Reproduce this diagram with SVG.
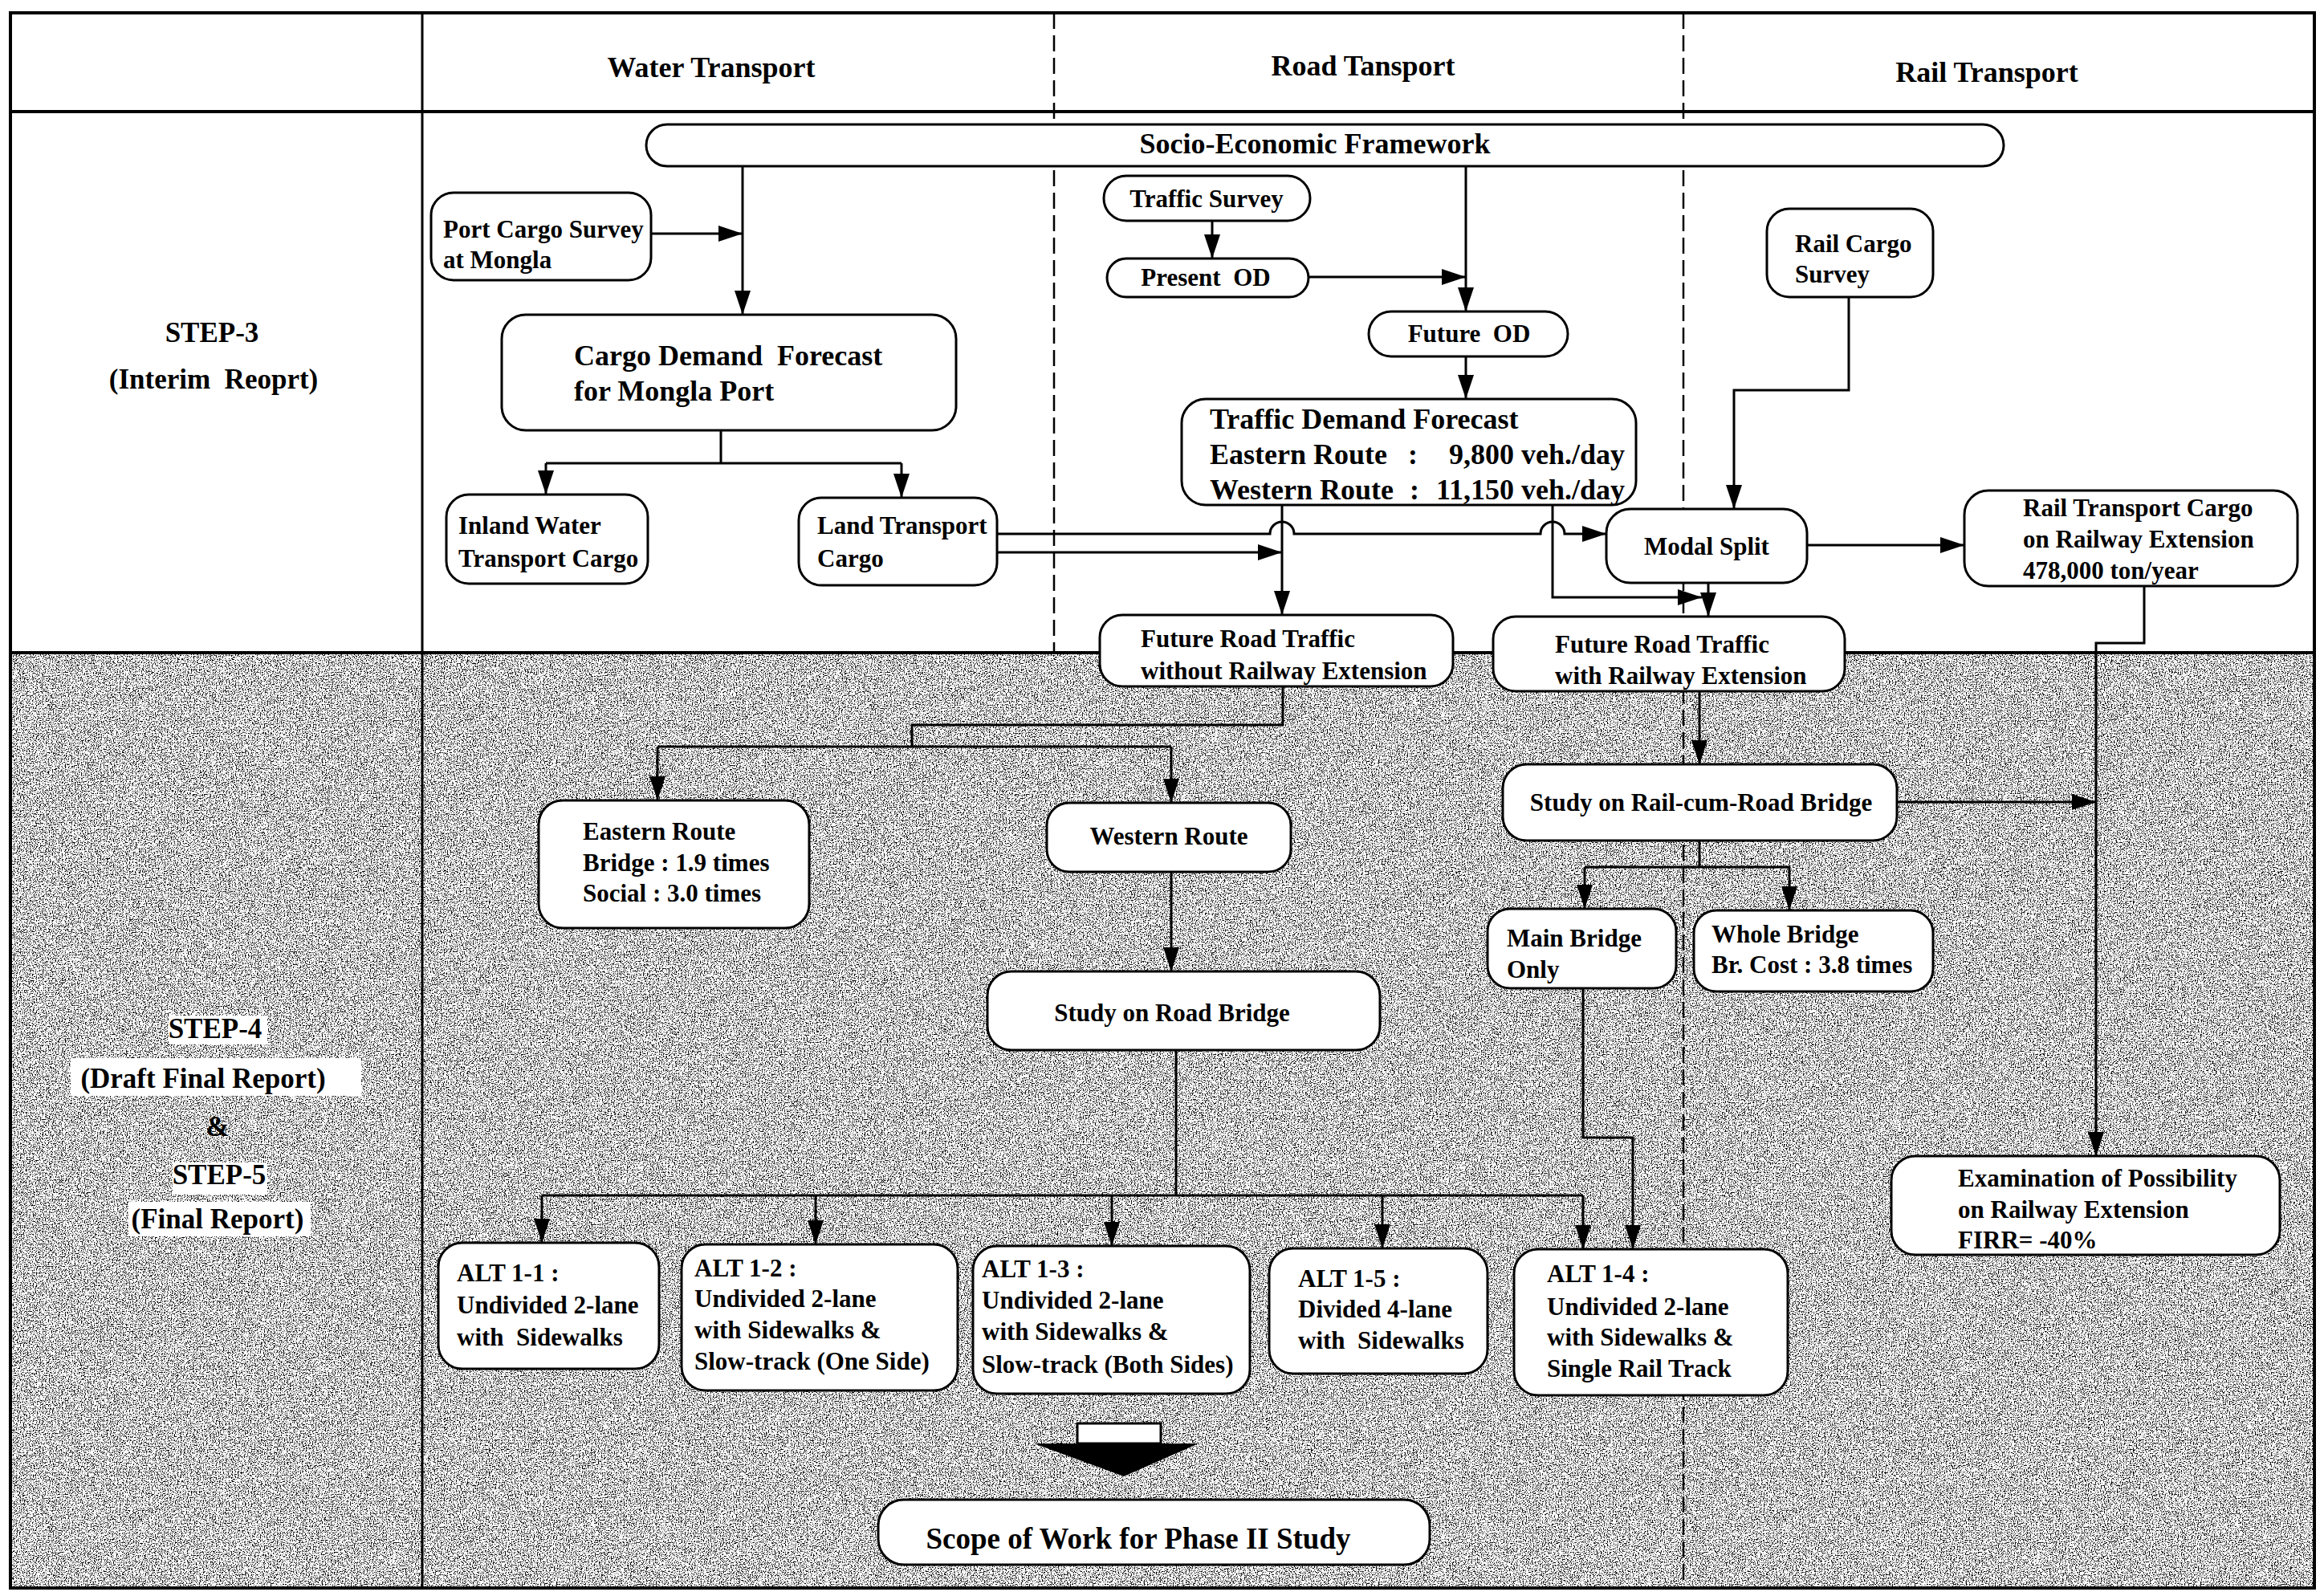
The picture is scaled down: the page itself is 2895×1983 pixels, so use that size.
<svg xmlns="http://www.w3.org/2000/svg" width="2895" height="1983" viewBox="0 0 2895 1983">
<style>
.t{font-family:"Liberation Serif","Times New Roman",serif;font-weight:bold;font-size:31px;fill:#000}
.lg{font-size:36px}
.st{font-size:35px}
.c{text-anchor:middle}
.e{text-anchor:end}
.box{fill:#fff;stroke:#000;stroke-width:3}
.cn{fill:none;stroke:#000;stroke-width:3}
.ar{marker-end:url(#ah)}
.grid{stroke:#000;stroke-width:4;fill:none}
.dash{stroke:#000;stroke-width:2.5;stroke-dasharray:20 8;fill:none}
.patch{fill:#fff}
</style>
<defs>
<marker id="ah" markerUnits="userSpaceOnUse" markerWidth="30" markerHeight="20" refX="30" refY="10" orient="auto" viewBox="0 0 30 20">
<path d="M0,0 L30,10 L0,20 z" fill="#000"/>
</marker>
<filter id="grain" x="0" y="0" width="1" height="1" color-interpolation-filters="sRGB">
<feTurbulence type="fractalNoise" baseFrequency="0.75" numOctaves="2" seed="4" result="t"/>
<feColorMatrix in="t" type="matrix" values="0 0 0 0 0  0 0 0 0 0  0 0 0 0 0  -7 0 0 0 3.44"/>
</filter>
</defs>

<g id="background">
<rect x="0" y="0" width="2895" height="1983" fill="#fff"/>
<rect x="15" y="815" width="2866" height="1161" fill="#000" filter="url(#grain)"/>
</g>

<g id="grid">
<rect class="grid" x="13" y="16" width="2870" height="1962"/>
<line class="grid" x1="13" y1="139" x2="2883" y2="139"/>
<line class="grid" x1="13" y1="813" x2="2883" y2="813"/>
<line class="grid" style="stroke-width:3" x1="526" y1="16" x2="526" y2="1978"/>
<line class="dash" x1="1313" y1="16" x2="1313" y2="813"/>
<line class="dash" x1="2097" y1="16" x2="2097" y2="1978"/>
</g>

<g id="headers">
<text class="t lg c" x="886" y="96">Water Transport</text>
<text class="t lg c" x="1698" y="94">Road Tansport</text>
<text class="t lg c" x="2475" y="102">Rail Transport</text>
</g>

<g id="step-labels">
<text class="t st c" x="264" y="426">STEP-3</text>
<text class="t st c" x="266" y="484" xml:space="preserve">(Interim  Reoprt)</text>
<rect class="patch" x="210" y="1265" width="123" height="36"/>
<rect class="patch" x="88" y="1318" width="362" height="47"/>
<rect class="patch" x="215" y="1448" width="118" height="40"/>
<rect class="patch" x="160" y="1497" width="227" height="43"/>
<text class="t st c" x="268" y="1293">STEP-4</text>
<text class="t st c" x="253" y="1355">(Draft Final Report)</text>
<text class="t st c" x="271" y="1415">&amp;</text>
<text class="t st c" x="273" y="1475">STEP-5</text>
<text class="t st c" x="271" y="1530">(Final Report)</text>
</g>

<g id="connectors">
<path class="cn ar" d="M811,291 H925"/>
<path class="cn ar" d="M925,207 V392"/>
<path class="cn" d="M898,536 V577 M680,577 H1123"/>
<path class="cn ar" d="M680,577 V616"/>
<path class="cn ar" d="M1123,577 V620"/>
<path class="cn ar" d="M1242,665 H1582 A15,15 0 0 1 1612,665 H1919 A15,15 0 0 1 1949,665 H2001"/>
<path class="cn ar" d="M1242,688 H1597"/>
<path class="cn ar" d="M1597,629 V766"/>
<path class="cn ar" d="M1934,629 V744 H2120"/>
<path class="cn ar" d="M2128,726 V768"/>
<path class="cn ar" d="M1510,275 V322"/>
<path class="cn ar" d="M1630,345 H1826"/>
<path class="cn ar" d="M1826,207 V388"/>
<path class="cn ar" d="M1826,444 V497"/>
<path class="cn ar" d="M2303,370 V486 H2160 V634"/>
<path class="cn ar" d="M2251,679 H2447"/>
<path class="cn ar" d="M2671,730 V801 H2611 V1440"/>
<path class="cn ar" d="M2363,999 H2611"/>
<path class="cn" d="M1598,855 V903 H1136 V930 M819,930 H1459"/>
<path class="cn ar" d="M819,930 V997"/>
<path class="cn ar" d="M1459,930 V1000"/>
<path class="cn ar" d="M1459,1086 V1210"/>
<path class="cn ar" d="M2117,861 V952"/>
<path class="cn" d="M2117,1047 V1080 M1974,1080 H2229"/>
<path class="cn ar" d="M1974,1080 V1132"/>
<path class="cn ar" d="M2229,1080 V1134"/>
<path class="cn" d="M1465,1308 V1489 M675,1489 H1972"/>
<path class="cn ar" d="M675,1489 V1548"/>
<path class="cn ar" d="M1016,1489 V1550"/>
<path class="cn ar" d="M1385,1489 V1552"/>
<path class="cn ar" d="M1722,1489 V1555"/>
<path class="cn ar" d="M1972,1489 V1556"/>
<path class="cn ar" d="M1972,1231 V1417 H2034 V1556"/>
</g>

<g id="n-socio">
<rect class="box" x="805" y="155" width="1691" height="52" rx="26"/>
<text class="t lg c" x="1638" y="191">Socio-Economic Framework</text>
</g>
<g id="n-port-survey">
<rect class="box" x="537" y="240" width="274" height="109" rx="28"/>
<text class="t" x="552" y="296">Port Cargo Survey</text>
<text class="t" x="552" y="334">at Mongla</text>
</g>
<g id="n-cargo-demand">
<rect class="box" x="625" y="392" width="566" height="144" rx="30"/>
<text class="t lg" x="715" y="455" xml:space="preserve">Cargo Demand  Forecast</text>
<text class="t lg" x="715" y="499">for Mongla Port</text>
</g>
<g id="n-inland">
<rect class="box" x="556" y="616" width="251" height="111" rx="28"/>
<text class="t" x="571" y="665">Inland Water</text>
<text class="t" x="571" y="706">Transport Cargo</text>
</g>
<g id="n-land">
<rect class="box" x="995" y="620" width="247" height="109" rx="28"/>
<text class="t" x="1018" y="665">Land Transport</text>
<text class="t" x="1018" y="706">Cargo</text>
</g>
<g id="n-traffic-survey">
<rect class="box" x="1375" y="219" width="257" height="56" rx="28"/>
<text class="t c" x="1503" y="258">Traffic Survey</text>
</g>
<g id="n-present-od">
<rect class="box" x="1379" y="322" width="251" height="48" rx="24"/>
<text class="t c" x="1502" y="356" xml:space="preserve">Present  OD</text>
</g>
<g id="n-future-od">
<rect class="box" x="1705" y="388" width="248" height="56" rx="28"/>
<text class="t c" x="1830" y="426" xml:space="preserve">Future  OD</text>
</g>
<g id="n-traffic-demand">
<rect class="box" x="1472" y="497" width="566" height="132" rx="30"/>
<text class="t lg" x="1507" y="534">Traffic Demand Forecast</text>
<text class="t lg" x="1507" y="578">Eastern Route</text>
<text class="t lg c" x="1760" y="578">:</text>
<text class="t lg e" x="2024" y="578">9,800 veh./day</text>
<text class="t lg" x="1507" y="622">Western Route</text>
<text class="t lg c" x="1762" y="622">:</text>
<text class="t lg e" x="2024" y="622">11,150 veh./day</text>
</g>
<g id="n-rail-survey">
<rect class="box" x="2201" y="260" width="207" height="110" rx="28"/>
<text class="t" x="2236" y="314">Rail Cargo</text>
<text class="t" x="2236" y="352">Survey</text>
</g>
<g id="n-modal-split">
<rect class="box" x="2001" y="634" width="250" height="92" rx="30"/>
<text class="t c" x="2126" y="691">Modal Split</text>
</g>
<g id="n-rail-cargo">
<rect class="box" x="2447" y="611" width="415" height="119" rx="30"/>
<text class="t" x="2520" y="643">Rail Transport Cargo</text>
<text class="t" x="2520" y="682">on Railway Extension</text>
<text class="t" x="2520" y="721">478,000 ton/year</text>
</g>
<g id="n-frt-without">
<rect class="box" x="1370" y="766" width="440" height="89" rx="28"/>
<text class="t" x="1421" y="806">Future Road Traffic</text>
<text class="t" x="1421" y="846">without Railway Extension</text>
</g>
<g id="n-frt-with">
<rect class="box" x="1860" y="768" width="438" height="93" rx="28"/>
<text class="t" x="1937" y="813">Future Road Traffic</text>
<text class="t" x="1937" y="852">with Railway Extension</text>
</g>
<g id="n-eastern">
<rect class="box" x="671" y="997" width="337" height="159" rx="30"/>
<text class="t" x="726" y="1046">Eastern Route</text>
<text class="t" x="726" y="1085">Bridge : 1.9 times</text>
<text class="t" x="726" y="1123">Social : 3.0 times</text>
</g>
<g id="n-western">
<rect class="box" x="1304" y="1000" width="304" height="86" rx="28"/>
<text class="t c" x="1456" y="1052">Western Route</text>
</g>
<g id="n-study-road">
<rect class="box" x="1230" y="1210" width="489" height="98" rx="30"/>
<text class="t c" x="1460" y="1272">Study on Road Bridge</text>
</g>
<g id="n-study-rail">
<rect class="box" x="1872" y="952" width="491" height="95" rx="30"/>
<text class="t c" x="2119" y="1010">Study on Rail-cum-Road Bridge</text>
</g>
<g id="n-main-bridge">
<rect class="box" x="1853" y="1132" width="235" height="99" rx="28"/>
<text class="t" x="1877" y="1179">Main Bridge</text>
<text class="t" x="1877" y="1218">Only</text>
</g>
<g id="n-whole-bridge">
<rect class="box" x="2110" y="1134" width="298" height="101" rx="28"/>
<text class="t" x="2132" y="1174">Whole Bridge</text>
<text class="t" x="2132" y="1212">Br. Cost : 3.8 times</text>
</g>
<g id="n-examination">
<rect class="box" x="2356" y="1440" width="484" height="123" rx="30"/>
<text class="t" x="2439" y="1478">Examination of Possibility</text>
<text class="t" x="2439" y="1517">on Railway Extension</text>
<text class="t" x="2439" y="1555">FIRR= -40%</text>
</g>
<g id="n-alt11">
<rect class="box" x="546" y="1548" width="275" height="157" rx="30"/>
<text class="t" x="569" y="1596">ALT 1-1 :</text>
<text class="t" x="569" y="1636">Undivided 2-lane</text>
<text class="t" x="569" y="1676" xml:space="preserve">with  Sidewalks</text>
</g>
<g id="n-alt12">
<rect class="box" x="849" y="1550" width="344" height="182" rx="30"/>
<text class="t" x="865" y="1590">ALT 1-2 :</text>
<text class="t" x="865" y="1628">Undivided 2-lane</text>
<text class="t" x="865" y="1667">with Sidewalks &amp;</text>
<text class="t" x="865" y="1706">Slow-track (One Side)</text>
</g>
<g id="n-alt13">
<rect class="box" x="1212" y="1552" width="345" height="184" rx="30"/>
<text class="t" x="1223" y="1591">ALT 1-3 :</text>
<text class="t" x="1223" y="1630">Undivided 2-lane</text>
<text class="t" x="1223" y="1669">with Sidewalks &amp;</text>
<text class="t" x="1223" y="1710">Slow-track (Both Sides)</text>
</g>
<g id="n-alt15">
<rect class="box" x="1581" y="1555" width="272" height="156" rx="30"/>
<text class="t" x="1617" y="1603">ALT 1-5 :</text>
<text class="t" x="1617" y="1641">Divided 4-lane</text>
<text class="t" x="1617" y="1680" xml:space="preserve">with  Sidewalks</text>
</g>
<g id="n-alt14">
<rect class="box" x="1886" y="1556" width="341" height="182" rx="30"/>
<text class="t" x="1927" y="1597">ALT 1-4 :</text>
<text class="t" x="1927" y="1638">Undivided 2-lane</text>
<text class="t" x="1927" y="1676">with Sidewalks &amp;</text>
<text class="t" x="1927" y="1715">Single Rail Track</text>
</g>
<g id="big-arrow">
<rect x="1342" y="1773" width="104" height="25" fill="#fff" stroke="#000" stroke-width="3"/>
<polygon points="1288,1798 1493,1798 1400,1839" fill="#000"/>
</g>
<g id="n-scope">
<rect class="box" x="1094" y="1868" width="687" height="81" rx="32"/>
<text class="t c" style="font-size:37px" x="1418" y="1929">Scope of Work for Phase II Study</text>
</g>
</svg>
